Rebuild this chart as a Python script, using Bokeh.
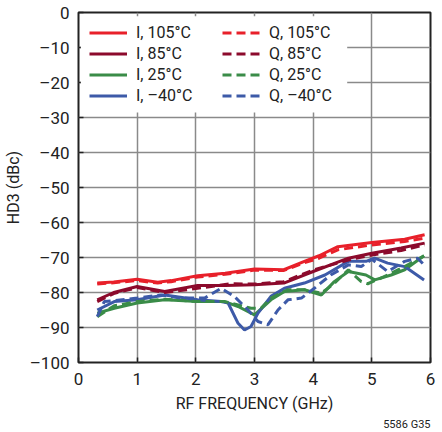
from bokeh.plotting import figure
from bokeh.models import Legend, LegendItem, FixedTicker, Title, BoxAnnotation
from bokeh.embed import file_html
from bokeh.resources import INLINE

# RF frequency (GHz) / HD3 (dBc)
i105_f = [0.32, 0.6, 1.0, 1.35, 1.58, 2.03, 2.5, 3.0, 3.5, 3.85, 4.1, 4.42, 5.0, 5.56, 5.9]
i105_v = [-77.3, -77.0, -76.2, -77.1, -76.6, -75.2, -74.5, -73.3, -73.5, -71.1, -69.5, -66.9, -65.7, -64.8, -63.5]
q105_f = [0.32, 0.6, 1.0, 1.35, 1.58, 2.03, 2.5, 3.0, 3.5, 3.85, 4.1, 4.42, 5.0, 5.56, 5.9]
q105_v = [-77.6, -77.2, -76.6, -77.3, -76.9, -75.6, -74.8, -73.6, -73.7, -71.5, -70.2, -67.8, -66.4, -65.4, -64.5]
i85_f = [0.32, 0.6, 1.0, 1.47, 2.03, 2.5, 3.0, 3.5, 4.0, 4.6, 5.0, 5.5, 5.9]
i85_v = [-82.1, -80.0, -78.3, -79.7, -78.0, -78.0, -77.8, -77.3, -74.0, -70.2, -68.8, -67.3, -65.9]
q85_f = [0.32, 0.6, 1.0, 1.47, 2.03, 2.6, 3.0, 3.5, 4.0, 4.6, 5.0, 5.5, 5.9]
q85_v = [-82.6, -80.3, -78.6, -80.0, -78.8, -77.5, -77.6, -76.9, -73.6, -70.7, -69.3, -68.0, -66.4]
i25_f = [0.32, 0.61, 1.0, 1.47, 2.03, 2.49, 2.72, 3.0, 3.28, 3.51, 3.85, 4.14, 4.36, 4.6, 4.9, 5.05, 5.33, 5.56, 5.89]
i25_v = [-85.9, -84.5, -83.0, -82.1, -82.6, -82.6, -84.0, -86.4, -82.1, -79.7, -79.2, -80.7, -76.9, -74.0, -75.0, -76.4, -75.0, -73.5, -69.5]
q25_f = [0.32, 0.61, 1.0, 1.47, 2.03, 2.49, 2.94, 3.11, 3.28, 3.57, 3.85, 4.14, 4.36, 4.6, 4.82, 4.93, 5.22, 5.56, 5.89]
q25_v = [-86.9, -83.8, -82.6, -81.9, -82.6, -82.6, -84.5, -84.5, -81.6, -79.2, -79.2, -80.2, -77.4, -73.5, -76.9, -77.5, -75.4, -72.6, -69.5]
i40_f = [0.32, 0.61, 1.0, 1.47, 2.03, 2.43, 2.55, 2.72, 2.83, 2.94, 3.06, 3.28, 3.51, 3.85, 4.2, 4.6, 4.9, 5.05, 5.27, 5.56, 5.89]
i40_v = [-85.0, -82.6, -82.1, -80.7, -82.1, -82.6, -83.0, -88.8, -90.7, -89.7, -85.9, -81.1, -78.8, -77.3, -75.0, -71.1, -71.1, -70.2, -71.6, -72.6, -76.4]
q40_f = [0.32, 0.44, 1.0, 1.41, 1.75, 2.15, 2.43, 2.66, 2.89, 3.06, 3.23, 3.4, 3.57, 3.8, 4.02, 4.3, 4.6, 4.82, 5.0, 5.27, 5.56, 5.78, 5.89]
q40_v = [-86.9, -82.6, -81.6, -80.7, -81.6, -81.6, -78.8, -81.2, -85.0, -88.3, -89.2, -85.0, -82.1, -81.6, -78.8, -75.0, -72.1, -72.6, -70.5, -74.0, -71.1, -70.2, -72.1]

labels = ["I, 105°C", "I, 85°C", "I, 25°C", "I, –40°C",
          "Q, 105°C", "Q, 85°C", "Q, 25°C", "Q, –40°C"]
x_ticks = [0, 1, 2, 3, 4, 5, 6]
y_ticks = [0, -10, -20, -30, -40, -50, -60, -70, -80, -90, -100]
y_tick_labels = {0: "0", -10: "–10", -20: "–20", -30: "–30", -40: "–40", -50: "–50",
                 -60: "–60", -70: "–70", -80: "–80", -90: "–90", -100: "–100"}
figure_id = "5586 G35"

FONT = "Roboto"
RED = "#E8202A"
DRED = "#8C0A2C"
GREEN = "#3A8C48"
BLUE = "#3D5AA8"

p = figure(width=440, height=430, output_backend="svg", toolbar_location=None,
           x_range=(0, 6), y_range=(-100, 0),
           min_border_left=72, min_border_right=10, min_border_top=12, min_border_bottom=68)

p.outline_line_color = "#222222"
p.outline_line_width = 2
p.background_fill_color = "white"
p.border_fill_color = "white"

for ax in (p.xaxis[0], p.yaxis[0]):
    ax.major_label_text_font = FONT
    ax.major_label_text_font_size = "17px"
    ax.major_label_text_color = "#222222"
    ax.axis_label_text_font = FONT
    ax.axis_label_text_font_size = "16px"
    ax.axis_label_text_font_style = "normal"
    ax.axis_label_text_color = "#222222"
    ax.axis_line_color = None
    ax.major_tick_in = 5
    ax.major_tick_out = 0
    ax.major_tick_line_color = "#222222"
    ax.major_tick_line_width = 1.5
    ax.minor_tick_line_color = None

p.xaxis.ticker = FixedTicker(ticks=x_ticks)
p.yaxis.ticker = FixedTicker(ticks=y_ticks)
p.yaxis.major_label_overrides = y_tick_labels
p.xaxis.axis_label = "RF FREQUENCY (GHz)"
p.yaxis.axis_label = "HD3 (dBc)"
p.xaxis.major_label_standoff = 10
p.yaxis.major_label_standoff = 9
p.xaxis.axis_label_standoff = 6
p.yaxis.axis_label_standoff = 4

p.xgrid.grid_line_color = "#8a8a8a"
p.ygrid.grid_line_color = "#8a8a8a"
p.xgrid.grid_line_width = 1.5
p.ygrid.grid_line_width = 1.5
p.xgrid.ticker = FixedTicker(ticks=x_ticks)
p.ygrid.ticker = FixedTicker(ticks=y_ticks)

# white panel behind the legend
p.add_layout(BoxAnnotation(left=0.04, right=4.58, top=-1.1, bottom=-28.6,
                           fill_color="white", fill_alpha=1.0, line_color=None))

W = 3
series = [
    (i105_f, i105_v, RED, "solid"),
    (i85_f, i85_v, DRED, "solid"),
    (i25_f, i25_v, GREEN, "solid"),
    (i40_f, i40_v, BLUE, "solid"),
    (q105_f, q105_v, RED, "9 5"),
    (q85_f, q85_v, DRED, "9 5"),
    (q25_f, q25_v, GREEN, "9 5"),
    (q40_f, q40_v, BLUE, "9 5"),
]
renderers = []
for f, v, c, d in series:
    r = p.line(f, v, line_color=c, line_width=W, line_dash=d)
    renderers.append(r)

items = [LegendItem(label=lab, renderers=[r]) for lab, r in zip(labels, renderers)]
legend = Legend(items=items, location="top_left", nrows=4,
                label_text_font=FONT, label_text_font_size="16px", label_text_color="#222222",
                glyph_width=38, glyph_height=19, label_standoff=9, spacing=2,
                label_width=84, label_height=19,
                padding=0, margin=11, border_line_color=None,
                background_fill_alpha=0.0)
p.add_layout(legend)

# figure number, below the axis at the right
note = Title(text=figure_id, align="right", standoff=0, text_font=FONT,
             text_font_size="11px", text_font_style="normal", text_color="#222222")
p.add_layout(note, "below")

open("out.html", "w").write(file_html(p, INLINE))
